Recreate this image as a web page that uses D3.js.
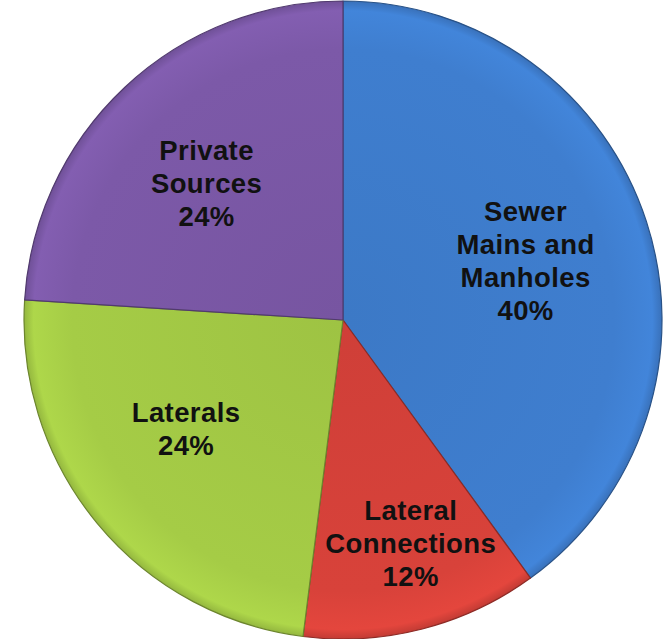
<!DOCTYPE html>
<html><head><meta charset="utf-8">
<script src="https://cdn.jsdelivr.net/npm/d3@7"></script>
<style>html,body{margin:0;padding:0;background:#fff;}</style>
</head><body>
<svg id="c" width="667" height="639"></svg>
<script>
const categories = ["Sewer Mains and Manholes", "Lateral Connections", "Laterals", "Private Sources"];
const values = [40, 12, 24, 24];
const labelLines = [["Sewer", "Mains and", "Manholes", "40%"], ["Lateral", "Connections", "12%"], ["Laterals", "24%"], ["Private", "Sources", "24%"]];
const colors = ["#3f7ecf", "#d8423a", "#a5cc46", "#7c59a8"];

const svg = d3.select("#c");
const cx = 343, cy = 320, R = 319;
const g = svg.append("g").attr("transform", `translate(${cx},${cy})`);
const defs = svg.append("defs");
colors.forEach((c, i) => {
  const gr = defs.append("radialGradient").attr("id", "g" + i)
    .attr("gradientUnits", "userSpaceOnUse").attr("cx", 0).attr("cy", 0).attr("r", R);
  gr.append("stop").attr("offset", "0%").attr("stop-color", d3.color(c).darker(0.12));
  gr.append("stop").attr("offset", "85%").attr("stop-color", c);
  gr.append("stop").attr("offset", "97%").attr("stop-color", d3.color(c).brighter(0.15));
  gr.append("stop").attr("offset", "100%").attr("stop-color", d3.color(c).darker(0.3));
});

const pie = d3.pie().sort(null).value(d => d);
const arcs = pie(values);
const arc = d3.arc().innerRadius(0).outerRadius(R);
g.selectAll("path.s").data(arcs).enter().append("path")
  .attr("class", "s").attr("d", arc)
  .attr("fill", (d, i) => `url(#g${i})`)
  .attr("stroke", (d, i) => d3.color(colors[i]).darker(1.2))
  .attr("stroke-width", 1.2).attr("stroke-linejoin", "round");

// labels: arc centroid plus a small Excel-like fitting offset
const labelArc = d3.arc().innerRadius(192).outerRadius(192);
const nudge = [[0, 0], [20, 37], [-9, -14], [-5, 3]];
const fs = 27.5, lh = 33;
arcs.forEach((d, i) => {
  const [cx0, cy0] = labelArc.centroid(d);
  const x = cx0 + nudge[i][0], y = cy0 + nudge[i][1];
  const lines = labelLines[i];
  const t = g.append("text")
    .attr("text-anchor", "middle")
    .attr("font-family", "Liberation Sans, Arial, sans-serif")
    .attr("font-weight", "bold").attr("font-size", fs)
    .attr("fill", "#111").attr("letter-spacing", 0.4);
  lines.forEach((ln, k) => {
    t.append("tspan").attr("x", x)
      .attr("y", y + (k - (lines.length - 1) / 2) * lh)
      .attr("dy", "0.35em").text(ln);
  });
});
</script>
</body></html>
